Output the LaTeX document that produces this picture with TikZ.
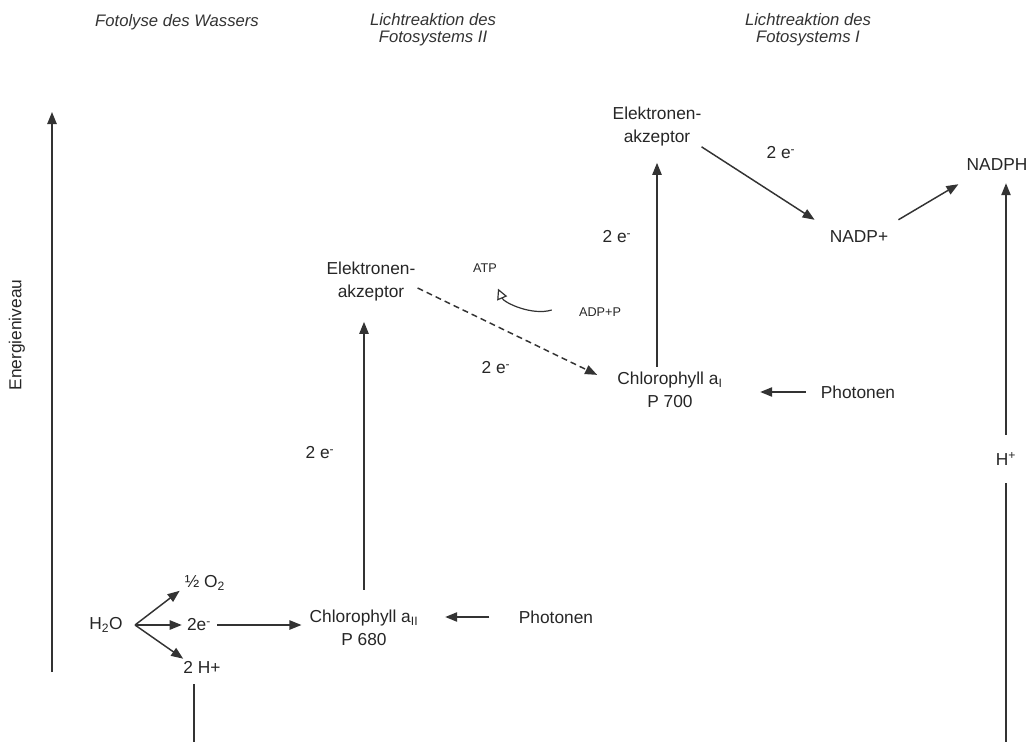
\documentclass[tikz,border=0pt]{standalone}
\usepackage{fontspec}
\setmainfont{Liberation Sans}
\usetikzlibrary{arrows.meta}

\begin{document}
\begin{tikzpicture}[x=0.75pt,y=-0.75pt,
		txt/.style={font=\fontsize{13}{17.25}\selectfont, text=black!85, align=center, inner sep=0pt},
		klein/.style={font=\fontsize{9.5}{11}\selectfont, text=black!85, inner sep=0pt},
		titel/.style={font=\fontsize{12.5}{12.5}\selectfont\itshape, text=black!80, align=center, inner sep=0pt},
		pfeil/.style={line width=1.1pt, draw=black!80, -{Triangle[length=9pt,width=7pt]}},
		linie/.style={line width=1.1pt, draw=black!80}]
		%%%%% START %%%%%
		
		\useasboundingbox (0,0) rectangle (1031,742);
		
		\node[titel] (tfw) at (177,22) {Fotolyse des Wassers};
		\node[titel] (tps2) at (433,30) {Lichtreaktion des\\Fotosystems II};
		\node[titel] (tps1) at (808,30) {Lichtreaktion des\\Fotosystems I};
		
		\coordinate (achse-u) at (52,672);
		\coordinate (achse-o) at (52,112);
		\draw[pfeil] (achse-u) -- (achse-o);
		\node[txt, rotate=90] (energie) at (17,335) {Energieniveau};
		
		\node[txt] (hzwo) at (106,625) {H\textsubscript{2}O};
		\coordinate (gabel) at (135,625);
		\node[txt] (ohalb) at (205,583) {½ O\textsubscript{2}};
		\node[txt] (zweie) at (199,625) {2e\textsuperscript{-}};
		\node[txt] (hplus) at (202,667) {2 H+};
		\coordinate (links-u) at (194,742);
		
		\node[txt] (chl2) at (364,628) {Chlorophyll a\textsubscript{II}\\P 680};
		\node[txt] (phot2) at (556,617) {Photonen};
		\node[txt] (akz2) at (371,282) {Elektronen-\\akzeptor};
		\node[klein] (atp) at (485,268) {ATP};
		\node[klein] (adp) at (600,312) {ADP+P};
		
		\node[txt] (chl1) at (670,390) {Chlorophyll a\textsubscript{I}\\P 700};
		\node[txt] (phot1) at (858,392) {Photonen};
		\node[txt] (akz1) at (657,127) {Elektronen-\\akzeptor};
		\node[txt] (nadp) at (859,237) {NADP+};
		\node[txt] (nadph) at (997,165) {NADPH};
		\node[txt, minimum height=36pt] (hplusr) at (1006,459) {H\textsuperscript{+}};
		\coordinate (rechts-u) at (1006,742);
		
		\node[txt] (ez1) at (320,453) {2 e\textsuperscript{-}};
		\node[txt] (ez2) at (496,368) {2 e\textsuperscript{-}};
		\node[txt] (ez3) at (617,237) {2 e\textsuperscript{-}};
		\node[txt] (ez4) at (781,153) {2 e\textsuperscript{-}};
		
		\draw[pfeil] (gabel) -- ([shift={(-5,0)}]ohalb.south west);
		\draw[pfeil] (gabel) -- ([shift={(-5,0)}]zweie.west);
		\draw[pfeil] (gabel) -- ([shift={(0,-2)}]hplus.north west);
		\draw[linie] ([shift={(-8,11)}]hplus.south) -- (links-u);
		
		\draw[pfeil, shorten <=4.5pt, shorten >=6pt] (zweie.east) -- (zweie.east -| chl2.west);
		\draw[pfeil, shorten <=22pt, shorten >=20pt] (phot2.west) -- (phot2.west -| chl2.east);
		\draw[pfeil, shorten <=15pt, shorten >=15pt] (chl2.north) -- (chl2.north |- akz2.south);
		
		\draw[pfeil, dash pattern=on 4.5pt off 3pt] ([shift={(2,6)}]akz2.east) -- ([shift={(-20,3)}]chl1.north west);
		\draw[line width=0.9pt, draw=black!80, -{Triangle[open,length=8pt,width=8pt]}] ([shift={(-27,-2)}]adp.west) .. controls +(-20,6) and +(6,14) .. ([shift={(13,16)}]atp.south);
		
		\draw[pfeil, shorten <=4pt, shorten >=12pt] (akz1.south |- chl1.north) -- (akz1.south);
		\draw[pfeil, shorten <=11pt, shorten >=28pt] (phot1.west) -- (phot1.west -| chl1.east);
		\draw[pfeil] (akz1.south east) -- ([shift={(-15,-11)}]nadp.north west);
		\draw[pfeil] ([shift={(10,-11)}]nadp.north east) -- ([shift={(-8,13)}]nadph.south west);
		
		\draw[linie] (rechts-u) -- (hplusr.south);
		\draw[pfeil, shorten >=9pt] (hplusr.north) -- (hplusr.north |- nadph.south);
		
		%%%%% END %%%%%
\end{tikzpicture}
\end{document}
